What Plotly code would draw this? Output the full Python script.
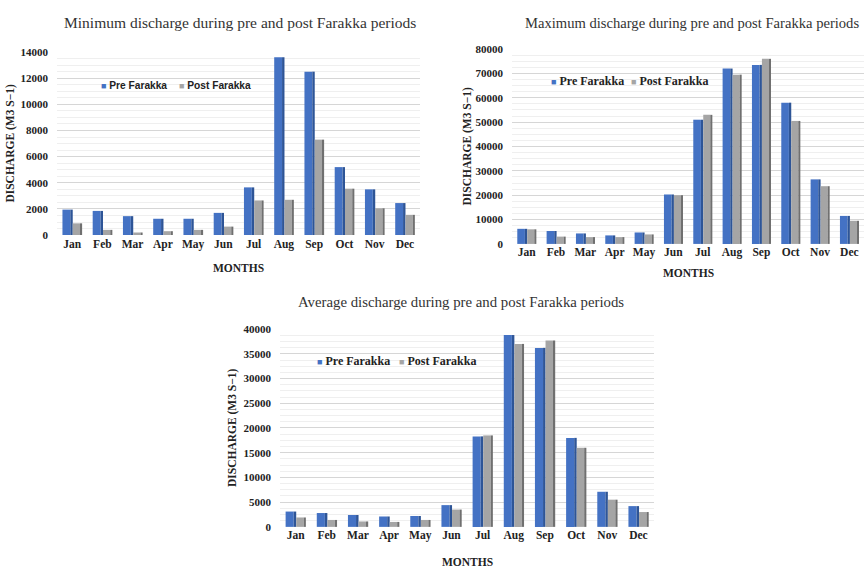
import plotly.graph_objects as go

months = ["Jan", "Feb", "Mar", "Apr", "May", "Jun", "Jul", "Aug", "Sep", "Oct", "Nov", "Dec"]

min_pre = [1950, 1850, 1450, 1250, 1250, 1700, 3650, 13600, 12500, 5200, 3500, 2450]
min_post = [900, 400, 200, 300, 400, 650, 2650, 2700, 7300, 3550, 2050, 1550]

max_pre = [6200, 5300, 4300, 3500, 4700, 20300, 51000, 72000, 73500, 58000, 26500, 11500]
max_post = [6000, 3000, 2800, 2800, 3900, 20000, 53000, 69500, 76000, 50500, 23700, 9500]

avg_pre = [3100, 2800, 2400, 2100, 2200, 4400, 18300, 38800, 36200, 18000, 7100, 4200]
avg_post = [1900, 1400, 1100, 1000, 1400, 3500, 18500, 37000, 37700, 16000, 5500, 3000]

series_names = ["Pre Farakka", "Post Farakka"]

PRE_FRONT, PRE_SIDE = "#4472C4", "#2E5597"
POST_FRONT, POST_SIDE = "#A5A5A5", "#707070"

W, H = 864, 574


def py(px):
    return 1 - px / H


def px_x(px):
    return px / W


panels = [
    dict(pre=min_pre, post=min_post, ymax=14000, dtick=2000,
         x=(57, 420), y=(47, 234),
         title="Minimum discharge during pre and post Farakka periods", title_x=240, title_y=17,
         title_size=15.5,
         ytitle_x=11, xtitle_y=268, legend_pos=[(99, 81), (177, 81)],
         legend_font="Liberation Sans", legend_size=10.2),
    dict(pre=max_pre, post=max_post, ymax=80000, dtick=10000,
         x=(512, 864), y=(44, 243),
         title="Maximum discharge during pre and post Farakka periods", title_x=692, title_y=17,
         title_size=14.6,
         ytitle_x=467, xtitle_y=273, legend_pos=[(549, 77), (629, 77)],
         legend_font="Liberation Serif", legend_size=12),
    dict(pre=avg_pre, post=avg_post, ymax=40000, dtick=5000,
         x=(280, 654), y=(330, 532),
         title="Average discharge during pre and post Farakka periods", title_x=461, title_y=302,
         title_size=14.8,
         ytitle_x=233, xtitle_y=568, legend_pos=[(315, 363), (397, 363)],
         legend_font="Liberation Serif", legend_size=12),
]

fig = go.Figure()
annotations = []
layout = {}

for i, p in enumerate(panels, start=1):
    xa = "x" if i == 1 else f"x{i}"
    ya = "y" if i == 1 else f"y{i}"
    # front faces plus a narrow darker side face for a bevelled look
    fig.add_trace(go.Bar(x=months, y=p["pre"], name=series_names[0], marker_color=PRE_FRONT,
                         offset=-0.32, width=0.26, xaxis=xa, yaxis=ya, marker_line_width=0))
    fig.add_trace(go.Bar(x=months, y=p["pre"], marker_color=PRE_SIDE,
                         offset=-0.06, width=0.08, xaxis=xa, yaxis=ya, marker_line_width=0,
                         hoverinfo="skip"))
    fig.add_trace(go.Bar(x=months, y=p["post"], name=series_names[1], marker_color=POST_FRONT,
                         offset=0.02, width=0.24, xaxis=xa, yaxis=ya, marker_line_width=0))
    fig.add_trace(go.Bar(x=months, y=p["post"], marker_color=POST_SIDE,
                         offset=0.26, width=0.07, xaxis=xa, yaxis=ya, marker_line_width=0,
                         hoverinfo="skip"))

    xkey = "xaxis" if i == 1 else f"xaxis{i}"
    ykey = "yaxis" if i == 1 else f"yaxis{i}"
    layout[xkey] = dict(domain=[px_x(p["x"][0]), min(1.0, px_x(p["x"][1]))], anchor=ya,
                        showgrid=False, showline=False, ticks="",
                        tickfont=dict(family="Liberation Serif", size=11.5, color="#222",
                                      weight="bold"),
                        range=[-0.5, 11.5])
    layout[ykey] = dict(domain=[py(p["y"][1]), py(p["y"][0])], anchor=xa,
                        range=[0, p["ymax"]], dtick=p["dtick"], tickformat="d",
                        showline=False, zeroline=False,
                        gridcolor="#D6D6D6", gridwidth=1,
                        minor=dict(showgrid=True, gridcolor="#EFEFEF", dtick=p["dtick"] / 4),
                        tickfont=dict(family="Liberation Serif", size=11, color="#222",
                                      weight="bold"),
                        ticklabelstandoff=8)

    # legend entries
    for (lx, ly), name, col in zip(p["legend_pos"], series_names, [PRE_FRONT, POST_FRONT]):
        annotations.append(dict(
            text=f"<span style='color:{col};font-size:9px'>■</span> {name}",
            x=px_x(lx), y=py(ly), xref="paper", yref="paper", xanchor="left",
            yanchor="middle", showarrow=False,
            font=dict(family=p["legend_font"], size=p["legend_size"], color="#222",
                      weight="bold")))

    annotations.append(dict(text=p["title"], x=px_x(p["title_x"]), y=py(p["title_y"]),
                            xref="paper", yref="paper", xanchor="center", yanchor="middle",
                            showarrow=False,
                            font=dict(family="Liberation Serif", size=p["title_size"],
                                      color="#333")))
    annotations.append(dict(text="<b>DISCHARGE (M3 S−1)</b>", x=px_x(p["ytitle_x"]),
                            y=(py(p["y"][1]) + py(p["y"][0])) / 2, xref="paper", yref="paper",
                            xanchor="center", yanchor="middle",
                            textangle=-90, showarrow=False,
                            font=dict(family="Liberation Serif", size=11.5, color="#222")))
    annotations.append(dict(text="<b>MONTHS</b>", x=px_x((p["x"][0] + p["x"][1]) / 2),
                            y=py(p["xtitle_y"]), xref="paper", yref="paper",
                            xanchor="center", yanchor="middle", showarrow=False,
                            font=dict(family="Liberation Serif", size=11.5, color="#222")))

fig.update_layout(
    width=W, height=H, margin=dict(l=0, r=0, t=0, b=0),
    paper_bgcolor="white", plot_bgcolor="white", showlegend=False,
    barmode="overlay", annotations=annotations, **layout,
)

fig.write_html("out.html")
